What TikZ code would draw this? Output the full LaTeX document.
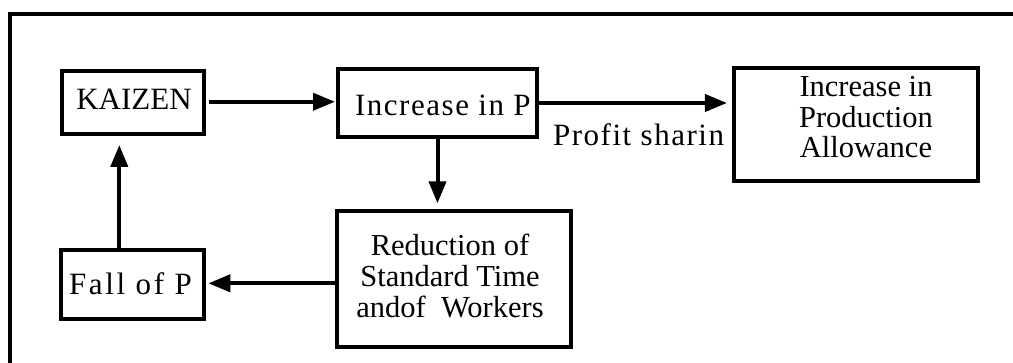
\documentclass[tikz,border=0pt]{standalone}
\usepackage{fontspec}
\setmainfont{Liberation Serif}
\usetikzlibrary{arrows.meta}
\begin{document}
\begin{tikzpicture}[x=1pt,y=-1pt,
  box/.style={draw, line width=4pt, inner sep=0pt, outer sep=0pt},
  txt/.style={inner sep=0pt, outer sep=0pt, font={\fontsize{31}{31}\selectfont}},
  txtm/.style={inner sep=0pt, outer sep=0pt, font={\fontsize{30.5}{30.7}\selectfont}},
  arr/.style={line width=4pt, -{Triangle[length=22pt,width=17pt]}},
  frameline/.style={line width=4pt}]
\useasboundingbox (0,0) rectangle (1013,363);
\clip (0,0) rectangle (1013,363);
\draw[frameline] (9.5,380) -- (9.5,14) -- (1030,14);
% boxes
\node[box, minimum width=142pt, minimum height=63.5pt] (kaizen) at (132.5,102.75) {};
\node[box, minimum width=199.6pt, minimum height=68.6pt] (incp) at (437.5,103) {};
\node[box, minimum width=244.3pt, minimum height=113pt] (prod) at (855.8,124.2) {};
\node[box, minimum width=233.7pt, minimum height=135.7pt] (red) at (453.8,279.2) {};
\node[box, minimum width=142.7pt, minimum height=69.3pt] (fall) at (132.7,284.3) {};
% texts
\node[txt, anchor=base] (kaizent) at (134,110) {KAIZEN};
\node[txt, anchor=base west] (incpt) at (355,115.5) {\addfontfeature{LetterSpace=5}Increase in P};
\node[txt, anchor=base west] (sharet) at (553,146) {\addfontfeature{LetterSpace=5}Profit sharin};
\node[txt, anchor=base west] (fallt) at (69,295) {\addfontfeature{LetterSpace=8.6}Fall of P};
\node[txtm, anchor=north, align=center] (prodt) at (866,76.3) {Increase in\\Production\\Allowance};
\node[txtm, anchor=north, align=center] (redt) at (450,234.2) {Reduction of\\Standard Time\\andof\ \ Workers};
% connectors
\draw[arr, shorten <=5.5pt, shorten >=2.7pt] ([yshift=1pt]kaizen.east) -- ([yshift=1pt]kaizen.east -| incp.west);
\draw[arr, shorten >=6.7pt] (incp.east) -- (incp.east -| prod.west);
\draw[arr, shorten >=8pt] (incp.south) -- (incp.south |- red.north);
\draw[arr, shorten >=4.3pt] ([yshift=1pt]fall.east -| red.west) -- ([yshift=1pt]fall.east);
\draw[arr, shorten >=10.5pt] ([xshift=-13.4pt]fall.north) -- ([xshift=-13.4pt]fall.north |- kaizen.south);
\end{tikzpicture}
\end{document}
